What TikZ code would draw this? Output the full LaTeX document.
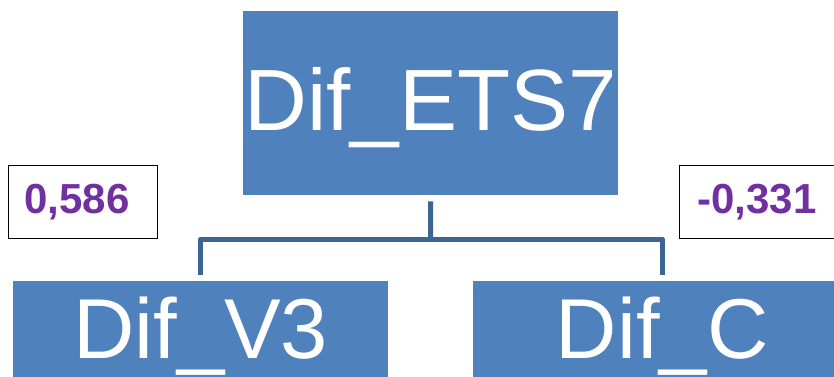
\documentclass[tikz,border=0pt]{standalone}
\usepackage{fontspec}
\setmainfont{Liberation Sans}
\definecolor{boxblue}{HTML}{4F81BD}
\definecolor{connblue}{HTML}{3C6594}
\definecolor{valpurple}{HTML}{7030A0}
\begin{document}
\begin{tikzpicture}[x=1pt,y=-1pt,
  box/.style={fill=boxblue, draw=none, text=white, inner sep=0pt, anchor=north west},
  conn/.style={draw=connblue, line width=5pt, line join=round},
  val/.style={draw=black, line width=1.2pt, fill=white, text=valpurple,
    font=\fontsize{42}{42}\selectfont\bfseries, anchor=north west,
    inner ysep=0pt, align=left, text height=30pt, text depth=7pt, minimum height=73pt}]
\useasboundingbox (0,0) rectangle (834,376);
\clip (0,0) rectangle (834,376);
\node[box, minimum width=375pt, minimum height=184pt, text height=60pt, text depth=6pt,
  font=\fontsize{87}{87}\selectfont] (top) at (243,11) {Dif\_ETS7};
\node[box, minimum width=375pt, minimum height=103pt, text height=58pt, text depth=7pt,
  font=\fontsize{85}{85}\selectfont] (v3) at (13,281) {Dif\_V3};
\node[box, minimum width=378pt, minimum height=103pt, text height=58pt, text depth=7pt,
  font=\fontsize{85}{85}\selectfont] (c) at (473,281) {Dif\_C};
\node[val, inner xsep=16pt, text width=117pt] (lv) at (8,165) {0,586};
\node[val, inner xsep=18pt, text width=124pt] (rv) at (679,165) {-0,331};
\coordinate (bar) at (430.5,239);
\draw[conn, shorten <=6pt] (top.south) -- (bar);
\draw[conn, shorten <=6pt, shorten >=6pt] (v3.north) |- (bar) -| (c.north);
\end{tikzpicture}
\end{document}
